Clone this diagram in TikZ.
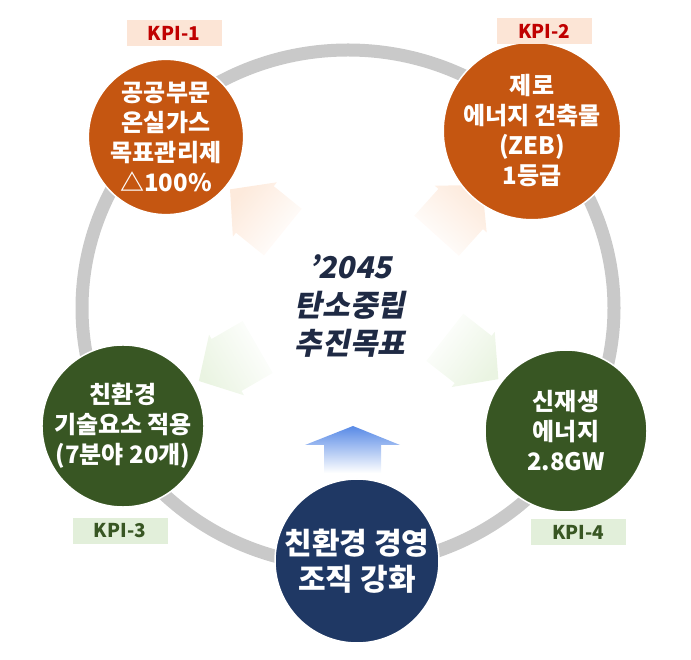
\documentclass[tikz,border=0pt]{standalone}
\usepackage{fontspec}
\setmainfont{Noto Sans CJK KR}
\newfontfamily\titlefont{Noto Sans CJK KR}[FakeSlant=0.2]
\usetikzlibrary{positioning}
\definecolor{ringgray}{RGB}{201,201,201}
\definecolor{kpiorange}{RGB}{197,86,17}
\definecolor{kpigreen}{RGB}{56,86,35}
\definecolor{kpinavy}{RGB}{31,56,100}
\definecolor{labelpink}{RGB}{252,229,214}
\definecolor{labelgreen}{RGB}{226,239,218}
\definecolor{labelred}{RGB}{192,0,0}
\definecolor{titleblue}{RGB}{31,42,68}
\definecolor{fadeorange}{RGB}{253,234,220}
\definecolor{fadegreen}{RGB}{234,244,226}
\definecolor{arrowblue}{RGB}{88,138,230}
\tikzset{
  kpicircle/.style={circle, draw=white, line width=1.5pt, text=white, align=center, inner sep=0pt,
    font=\bfseries\fontsize{24}{30}\selectfont},
  kpilabel/.style={rectangle, minimum width=95pt, minimum height=26pt, inner sep=0pt,
    font=\bfseries\fontsize{19}{22}\selectfont}
}
\begin{document}
\begin{tikzpicture}[x=1pt,y=1pt]
\useasboundingbox (0,0) rectangle (691,659);
% gray ring behind everything
\draw[ringgray, line width=13pt] (348,351) ellipse [x radius=266pt, y radius=258pt];
% pale arrows from the goal out to the KPIs
\foreach \ax/\ay/\aa/\ac in {258/447/141/fadeorange, 458/447/48/fadeorange, 230/296/210/fadegreen, 470/302/-38/fadegreen}
{
  \pgfmathsetmacro\sa{\aa-90}
  \begin{scope}[shift={(\ax,\ay)}, rotate=\aa]
    \shade[top color=\ac, bottom color=white, shading angle=\sa] (36,0) -- (4,35) -- (4,30) -- (-32,30) -- (-32,-30) -- (4,-30) -- (4,-35) -- cycle;
  \end{scope}
}
% blue arrow up from the organisation
\shade[top color=arrowblue, bottom color=white] (353,233) -- (400,214) -- (381,214) -- (381,186) -- (324,186) -- (324,214) -- (305,214) -- cycle;
% KPI circles
\node[kpicircle, fill=kpiorange, minimum size=148pt] (kpione) at (166,522) {공공부문\\온실가스\\목표관리제\\△100\%};
\node[kpicircle, fill=kpiorange, minimum size=162pt] (kpitwo) at (532,528) {제로\\에너지 건축물\\(ZEB)\\1등급};
\node[kpicircle, fill=kpigreen, minimum size=162pt] (kpithree) at (123,233) {친환경\\기술요소 적용\\(7분야 20개)};
\node[kpicircle, fill=kpigreen, minimum size=162pt] (kpifour) at (566,228) {신재생\\에너지\\2.8GW};
\node[kpicircle, fill=kpinavy, minimum size=164pt, font=\bfseries\fontsize{30}{36}\selectfont] (org) at (357,98) {친환경 경영\\조직 강화};
% goal in the middle
\node[align=center, text=titleblue, font=\titlefont\bfseries\fontsize{30}{38}\selectfont] (goal) at (350,353) {’2045\\탄소중립\\추진목표};
% KPI tags
\node[kpilabel, fill=labelpink, text=labelred] (kpionetag) at (174,626) {KPI-1};
\node[kpilabel, fill=labelpink, text=labelred] (kpitwotag) at (544,628) {KPI-2};
\node[kpilabel, fill=labelgreen, text=kpigreen] (kpithreetag) at (120,128) {KPI-3};
\node[kpilabel, fill=labelgreen, text=kpigreen] (kpifourtag) at (578,127) {KPI-4};
\end{tikzpicture}
\end{document}
